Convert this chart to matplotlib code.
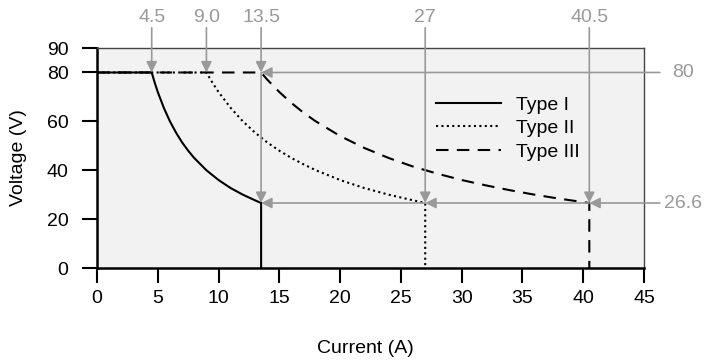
import matplotlib.pyplot as plt

plt.rcParams['font.family'] = ['Liberation Sans', 'DejaVu Sans']

# readings (current in A, voltage in V)
i_type1 = [0, 4.5, 4.75, 5, 5.5, 6, 6.5, 7, 7.5, 8, 9, 10, 11, 12, 13, 13.5, 13.5]
v_type1 = [80, 80, 75.8, 72, 65.5, 60, 55.4, 51.4, 48, 45, 40, 36, 32.7, 30, 27.7, 26.6, 0]

i_type2 = [0, 9, 9.5, 10, 11, 12, 13, 14, 15, 16, 17, 18, 20, 22, 24, 26, 27, 27]
v_type2 = [80, 80, 75.8, 72, 65.5, 60, 55.4, 51.4, 48, 45, 42.4, 40, 36, 32.7, 30, 27.7, 26.6, 0]

i_type3 = [0, 13.5, 14, 15, 16, 17, 18, 20, 22, 24, 26, 28, 30, 32, 34, 36, 38, 40.5, 40.5]
v_type3 = [80, 80, 77.1, 72, 67.5, 63.5, 60, 54, 49.1, 45, 41.5, 38.6, 36, 33.8, 31.8, 30, 28.4, 26.6, 0]

top_marks = [4.5, 9.0, 13.5, 27, 40.5]
top_labels = ['4.5', '9.0', '13.5', '27', '40.5']
v_max, v_min = 80, 26.6

grey = '#999999'
fs = 14

fig = plt.figure(figsize=(7.06, 3.64), dpi=100)
ax = fig.add_axes([0.1374, 0.2637, 0.7748, 0.6043])
ax.set_facecolor('#f2f2f2')

ax.plot(i_type1, v_type1, color='black', lw=1.5, label='Type I')
ax.plot(i_type2, v_type2, color='black', lw=1.5, ls=(0, (1, 1.6)), label='Type II')
ax.plot(i_type3, v_type3, color='black', lw=1.5, ls=(0, (6, 4)), label='Type III')

ax.set_xlim(0, 45)
ax.set_ylim(0, 90)
ax.set_xticks(range(0, 46, 5))
ax.set_yticks([0, 20, 40, 60, 80, 90])
ax.tick_params(direction='out', length=11, width=1.5, labelsize=fs)
ax.tick_params(axis='x', pad=5)
ax.tick_params(axis='y', pad=9.5)
for s in ['left', 'bottom']:
    ax.spines[s].set_linewidth(1.8)
for s in ['top', 'right']:
    ax.spines[s].set_linewidth(1.0)
    ax.spines[s].set_color('#444444')

ax.set_xlabel('Current (A)', fontsize=fs)
ax.xaxis.set_label_coords(0.49, -0.325)
ax.set_ylabel('Voltage (V)', fontsize=fs, labelpad=14)

def arrow(x0, y0, x1, y1):
    ax.annotate('', xy=(x1, y1), xytext=(x0, y0), annotation_clip=False,
                arrowprops=dict(arrowstyle='-|>', color=grey, lw=1.2,
                                mutation_scale=16, shrinkA=0, shrinkB=0))

y_top = 98.3
x_right = 46.3
# vertical markers from the top
arrow(4.5, y_top, 4.5, v_max)
arrow(9.0, y_top, 9.0, v_max)
arrow(13.5, y_top, 13.5, v_max)
arrow(13.5, v_max, 13.5, v_min)
arrow(27, y_top, 27, v_min)
arrow(40.5, y_top, 40.5, v_min)
# horizontal markers from the right
arrow(x_right, v_max, 13.5, v_max)
arrow(x_right, v_min, 40.5, v_min)
arrow(40.5, v_min, 27, v_min)
arrow(27, v_min, 13.5, v_min)

for x, t in zip(top_marks, top_labels):
    ax.text(x, 102.3, t, color=grey, fontsize=fs, ha='center', va='center', clip_on=False)
ax.text(48.2, v_max, '80', color=grey, fontsize=fs, ha='center', va='center', clip_on=False)
ax.text(48.2, v_min, '26.6', color=grey, fontsize=fs, ha='center', va='center', clip_on=False)

ax.legend(loc='upper left', bbox_to_anchor=(0.62, 0.782), frameon=False, fontsize=fs,
          handlelength=3.35, handletextpad=0.77, labelspacing=0.3, borderpad=0,
          borderaxespad=0)

fig.savefig('out.png', dpi=100)
